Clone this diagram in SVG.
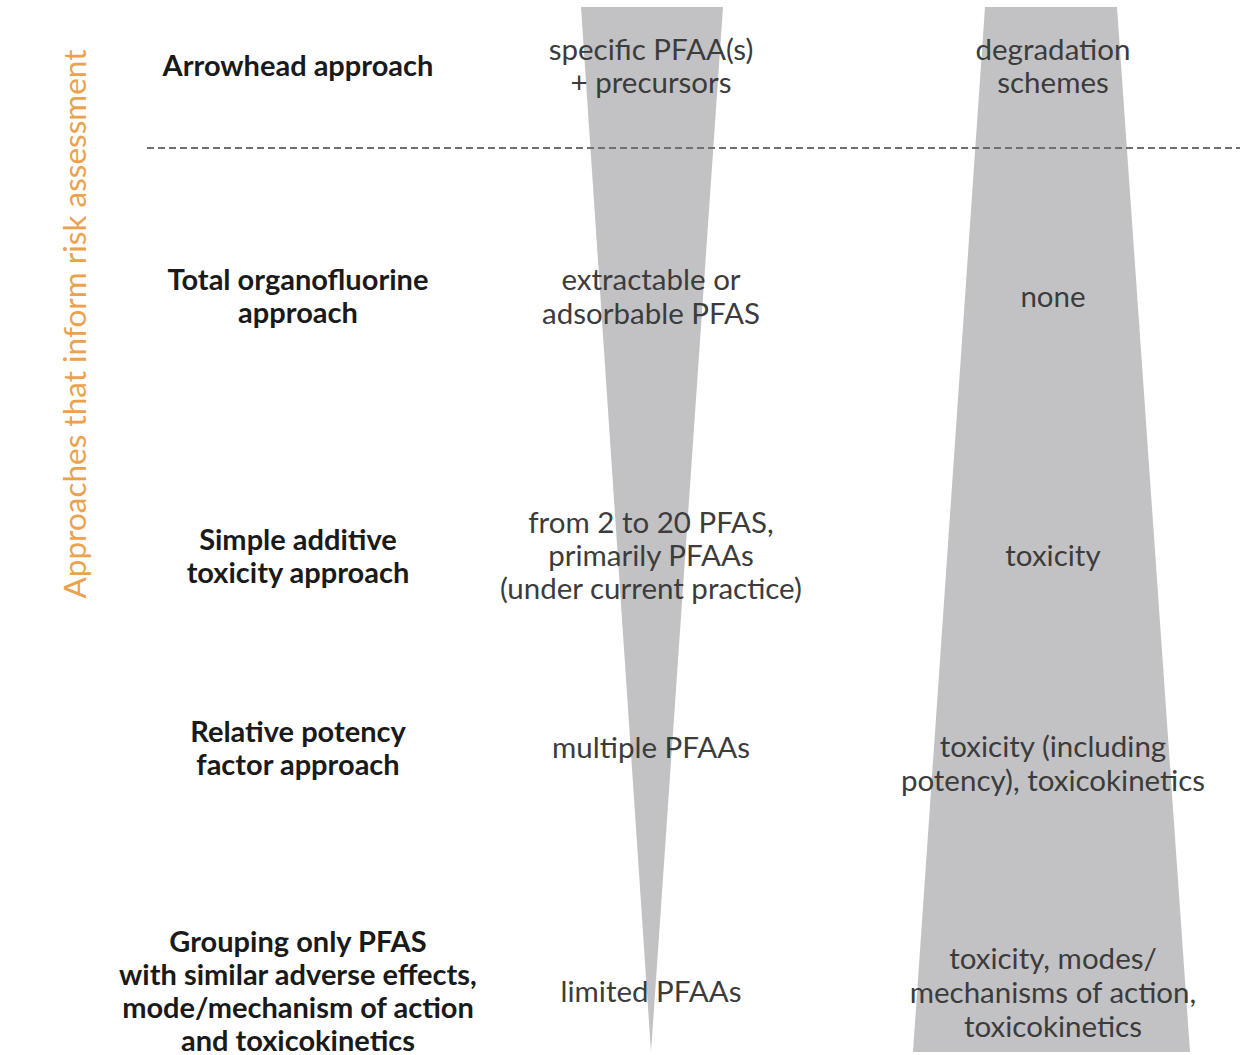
<svg xmlns="http://www.w3.org/2000/svg" width="1250" height="1055" viewBox="0 0 1250 1055">
<style>
.b{font-family:Lato,"Open Sans","Liberation Sans",sans-serif;font-weight:bold;font-size:29px;fill:#1a1a1a;text-anchor:middle}
.r{font-family:Lato,"Open Sans","Liberation Sans",sans-serif;font-size:29.5px;fill:#3c3c3c;text-anchor:middle}
.shape{fill:#c2c2c4}
</style>
<rect width="1250" height="1055" fill="#ffffff"/>
<g id="wedges">
<polygon class="shape" points="581,7 723,7 651,1052"/>
<polygon class="shape" points="985,7 1117,7 1190,1052 913,1052"/>
</g>
<g id="connectors">
<line x1="147" y1="148" x2="1240" y2="148" stroke="#707070" stroke-width="2" stroke-dasharray="7,4"/>
</g>
<g id="axis-label">
<text transform="translate(86,324) rotate(-90)" font-family="Lato,'Open Sans','Liberation Sans',sans-serif" font-size="31.5" fill="#eca24c" text-anchor="middle">Approaches that inform risk assessment</text>
</g>
<g id="row-arrowhead">
<text class="b" x="298" y="76">Arrowhead approach</text>
<text class="r" x="651" y="60">specific PFAA(s)</text>
<text class="r" x="651" y="93">+ precursors</text>
<text class="r" x="1053" y="60">degradation</text>
<text class="r" x="1053" y="93">schemes</text>
</g>
<g id="row-total">
<text class="b" x="298" y="290">Total organofluorine</text>
<text class="b" x="298" y="323">approach</text>
<text class="r" x="651" y="290">extractable or</text>
<text class="r" x="651" y="324">adsorbable PFAS</text>
<text class="r" x="1053" y="307">none</text>
</g>
<g id="row-simple">
<text class="b" x="298" y="550">Simple additive</text>
<text class="b" x="298" y="583">toxicity approach</text>
<text class="r" x="651" y="533">from 2 to 20 PFAS,</text>
<text class="r" x="651" y="566">primarily PFAAs</text>
<text class="r" x="651" y="599">(under current practice)</text>
<text class="r" x="1053" y="566">toxicity</text>
</g>
<g id="row-relative">
<text class="b" x="298" y="742">Relative potency</text>
<text class="b" x="298" y="775">factor approach</text>
<text class="r" x="651" y="758">multiple PFAAs</text>
<text class="r" x="1053" y="757">toxicity (including</text>
<text class="r" x="1053" y="791">potency), toxicokinetics</text>
</g>
<g id="row-grouping">
<text class="b" x="298" y="952">Grouping only PFAS</text>
<text class="b" x="298" y="985">with similar adverse effects,</text>
<text class="b" x="298" y="1018">mode/mechanism of action</text>
<text class="b" x="298" y="1051">and toxicokinetics</text>
<text class="r" x="651" y="1002">limited PFAAs</text>
<text class="r" x="1053" y="969">toxicity, modes/</text>
<text class="r" x="1053" y="1003">mechanisms of action,</text>
<text class="r" x="1053" y="1037">toxicokinetics</text>
</g>
</svg>
